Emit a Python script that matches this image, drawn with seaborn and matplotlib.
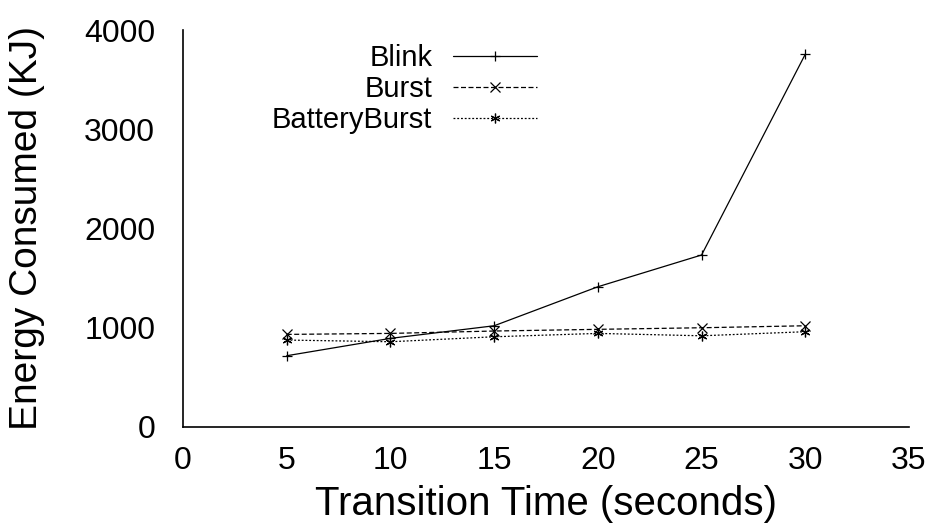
import numpy as np
import pandas as pd
import matplotlib
matplotlib.use("Agg")
import matplotlib.pyplot as plt
import seaborn as sns

# --- data ---
transition_time = [5, 10, 15, 20, 25, 30]
blink = [718, 893, 1020, 1413, 1733, 3756]
burst = [933, 943, 967, 984, 1000, 1020]
battery_burst = [876, 859, 909, 943, 919, 960]

sns.set_style("white")
plt.rcParams["font.family"] = ["Liberation Sans", "DejaVu Sans"]
plt.rcParams["text.color"] = "black"

fig = plt.figure(figsize=(9.4, 5.31), dpi=100)
ax = fig.add_axes([183 / 940, 1 - 427 / 531, (909 - 183) / 940, 397 / 531])

series = [
    ("Blink", blink, "+", "-"),
    ("Burst", burst, "x", (0, (4, 2))),
    ("BatteryBurst", battery_burst, (6, 2, 0), (0, (1.5, 1.5))),
]
for name, vals, mk, ls in series:
    sns.lineplot(x=transition_time, y=vals, ax=ax, color="black", linewidth=0.9,
                 linestyle=ls, marker=mk, markersize=7, markeredgewidth=0.9,
                 markeredgecolor="black", markerfacecolor="black", label=name)

ax.set_xlim(0, 35)
ax.set_ylim(0, 4000)
ax.set_xticks(range(0, 36, 5))
ax.set_yticks(range(0, 4001, 1000))
ax.tick_params(axis="both", labelsize=23, direction="in", length=5, width=1,
               colors="black", labelcolor="black")
ax.tick_params(axis="x", pad=14)
ax.tick_params(axis="y", pad=20)
ax.set_xlabel("Transition Time (seconds)", fontsize=29, labelpad=6, color="black")
ax.set_ylabel("Energy Consumed (KJ)", fontsize=28, labelpad=28, color="black")

for side in ["top", "right"]:
    ax.spines[side].set_visible(False)
for side in ["left", "bottom"]:
    ax.spines[side].set_color("black")
    ax.spines[side].set_linewidth(1.2)

leg = ax.legend(loc="upper right", bbox_to_anchor=(0.488, 0.965), frameon=False,
                markerfirst=False, fontsize=21, handlelength=2.9, handletextpad=0.7,
                labelspacing=0.1, borderaxespad=0, borderpad=0)
for t in leg.get_texts():
    t.set_color("black")

fig.savefig("out.png", dpi=100)
